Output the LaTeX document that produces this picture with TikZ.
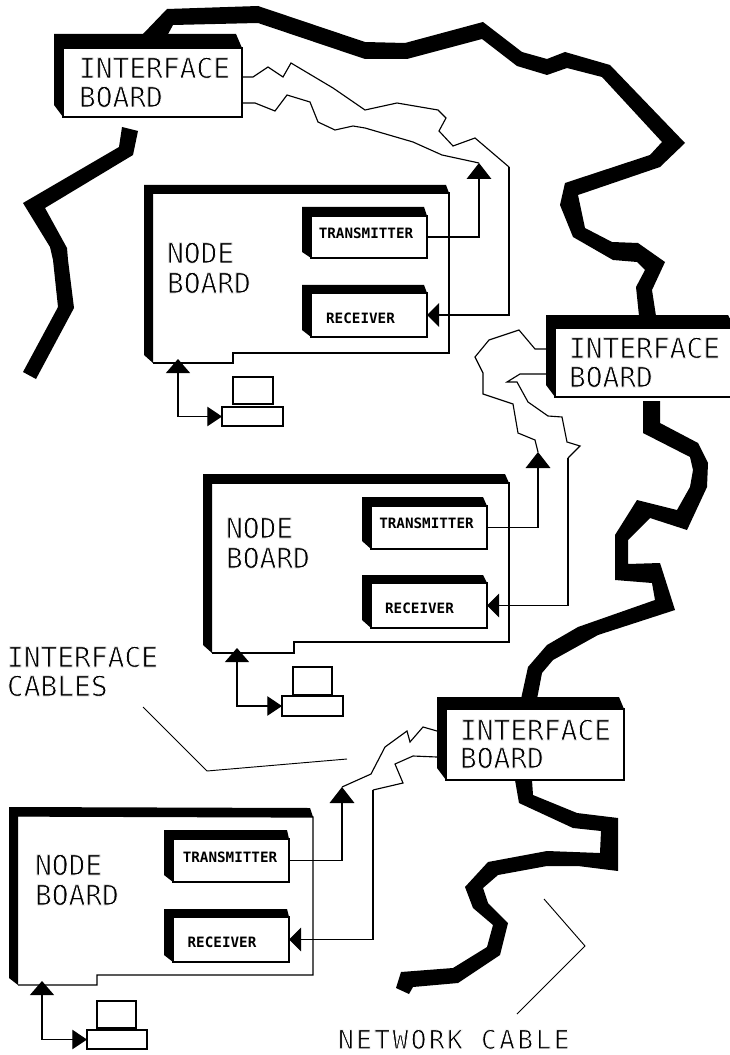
\documentclass[tikz,border=0pt]{standalone}
\usepackage{fontspec}
\setmonofont{DejaVu Sans Mono}
\usetikzlibrary{arrows.meta,fit}
\newcommand{\thinned}[1]{\special{pdf:code 2 Tr 1 1 1 RG 0.55 w}#1\special{pdf:code 0 Tr 0 0 0 RG 0.4 w}}
\tikzset{
  cable/.style={fill=black,draw=none},
  backing/.style={fill=black,draw=none},
  outline/.style={draw=black,line width=0.95pt,line join=miter},
  face/.style={draw=black,fill=white,line width=0.95pt,inner sep=0pt,outer sep=0pt},
  wire/.style={draw=black,line width=0.85pt,line join=miter},
  leader/.style={draw=black,line width=0.7pt},
  bigtext/.style={font=\ttfamily\fontsize{20.9}{22}\selectfont,anchor=base west,inner sep=0pt,outer sep=0pt},
  widetext/.style={font=\ttfamily\fontsize{19.5}{21}\selectfont\addfontfeature{LetterSpace=9.8},anchor=base west,inner sep=0pt,outer sep=0pt},
  smalltext/.style={font=\ttfamily\bfseries\fontsize{10.7}{12}\selectfont,inner sep=0pt,outer sep=0pt},
  upper/.style={-{Triangle[length=12pt,width=18.5pt]}},
  lefter/.style={-{Triangle[length=9pt,width=17.5pt]}},
  pcarrow/.style={{Triangle[length=10.5pt,width=18pt]}-{Triangle[length=11pt,width=14.5pt]}},
}
\newcommand{\threedbox}[9]{%
  \fill[backing] (#2,#3) -- (#9,#3) -- (#6,#5) -- (#4,#7) -- (#2,#8) -- cycle;
  \node[face,fit={(#4,#5)(#6,#7)}] (#1) {};
}
\newcommand{\computer}[9]{%
  \node[face,fit={(#2,#3)(#4,#5)}] (#1mon) {};
  \node[face,fit={(#6,#7)(#8,#9)}] (#1base) {};
}
\begin{document}
\begin{tikzpicture}[x=0.75pt,y=-0.75pt]
\useasboundingbox (0,0) rectangle (730,1055);
\clip (0,0) rectangle (730,1055);
\fill[white] (0,0) rectangle (730,1055);

% ---- network cable ----
\fill[cable] (143,34) -- (167,9) -- (258,6) -- (365,42) -- (405,43) -- (483,22) -- (522,52) -- (547,59) -- (565,52) -- (610,65) -- (685,143) -- (660,167) -- (578,195) -- (585,228) -- (612,242) -- (638,243) -- (665,262) -- (652,290) -- (656,316) -- (639,316) -- (636,287) -- (645,270) -- (637,262) -- (613,260) -- (573,237) -- (560,205) -- (565,183) -- (650,155) -- (662,142) -- (602,77) -- (567,68) -- (547,75) -- (517,66) -- (482,39) -- (407,59) -- (365,59) -- (258,23) -- (173,25) -- (167,36) -- cycle;
\fill[cable] (122,127) -- (138,131) -- (133,155) -- (45,208) -- (67,248) -- (68,260) -- (74,308) -- (36,379) -- (23,372) -- (58,307) -- (53,260) -- (50,247) -- (23,203) -- (119,147) -- cycle;
\fill[cable] (643,401) -- (660,401) -- (660,423) -- (698,443) -- (708,463) -- (707,487) -- (687,530) -- (650,518) -- (628,540) -- (628,564) -- (660,563) -- (675,610) -- (598,635) -- (553,660) -- (542,673) -- (537,699) -- (521,699) -- (528,667) -- (547,645) -- (578,627) -- (655,600) -- (652,583) -- (615,580) -- (615,535) -- (637,500) -- (677,510) -- (690,487) -- (693,470) -- (690,457) -- (643,433) -- cycle;
\fill[cable] (515,780) -- (532,780) -- (533,795) -- (577,813) -- (618,818) -- (618,871) -- (578,866) -- (547,866) -- (498,875) -- (483,888) -- (488,903) -- (508,923) -- (500,955) -- (458,983) -- (413,987) -- (409,994) -- (396,988) -- (401,972) -- (453,968) -- (487,947) -- (493,925) -- (473,908) -- (465,887) -- (488,862) -- (547,851) -- (600,853) -- (601,831) -- (573,828) -- (519,803) -- cycle;

% ---- interface boards ----
\threedbox{ifa}{54}{34}{63}{48}{242}{117}{105}{236}
\threedbox{ifb}{546}{315}{555}{328}{735}{397}{385}{728}
\threedbox{ifc}{437}{697}{446}{709}{624}{780}{768}{619}
\node[bigtext] (ifat) at (79,78) {\thinned{INTERFACE}};
\node[bigtext] (ifab) at (79,107) {\thinned{BOARD}};
\node[bigtext] (ifbt) at (569,358) {\thinned{INTERFACE}};
\node[bigtext] (ifbb) at (569,387) {\thinned{BOARD}};
\node[bigtext] (ifct) at (460,740) {\thinned{INTERFACE}};
\node[bigtext] (ifcb) at (460,768) {\thinned{BOARD}};

% ---- node boards ----
\fill[backing] (144,185) -- (446,185) -- (449,193) -- (153,193) -- (153,363) -- (144,355) -- cycle;
\draw[outline] (153,193) -- (449,193) -- (449,353) -- (233,353) -- (233,363) -- (153,363);
\fill[backing] (203,474) -- (505,474) -- (509,483) -- (212,483) -- (212,653) -- (203,645) -- cycle;
\draw[outline] (212,483) -- (509,483) -- (509,642) -- (294,642) -- (294,653) -- (212,653);
\fill[backing] (9,807) -- (310,808) -- (313,817) -- (18,816) -- (18,985) -- (9,978) -- cycle;
\draw[outline] (18,816) -- (313,817) -- (313,975) -- (97,975) -- (97,985) -- (18,985);

\node[bigtext] (nbat) at (167,263) {\thinned{NODE}};
\node[bigtext] (nbab) at (167,293) {\thinned{BOARD}};
\node[bigtext] (nbbt) at (226,538) {\thinned{NODE}};
\node[bigtext] (nbbb) at (226,568) {\thinned{BOARD}};
\node[bigtext] (nbct) at (35,875) {\thinned{NODE}};
\node[bigtext] (nbcb) at (35,905) {\thinned{BOARD}};

% ---- transmitters / receivers ----
\threedbox{txa}{302}{207}{311}{216}{427}{258}{252}{424}
\threedbox{rxa}{302}{285}{311}{293}{427}{337}{330}{424}
\threedbox{txb}{362}{497}{371}{506}{487}{549}{541}{483}
\threedbox{rxb}{362}{575}{371}{583}{487}{628}{620}{483}
\threedbox{txc}{164}{830}{173}{839}{289}{882}{875}{287}
\threedbox{rxc}{164}{909}{173}{917}{289}{962}{955}{287}
\node[smalltext] (txal) at (366,233) {TRANSMITTER};
\node[smalltext] (rxal) at (360.5,318) {RECEIVER};
\node[smalltext] (txbl) at (426.5,523.5) {TRANSMITTER};
\node[smalltext] (rxbl) at (419.5,608) {RECEIVER};
\node[smalltext] (txcl) at (230,857) {TRANSMITTER};
\node[smalltext] (rxcl) at (222,942) {RECEIVER};

% ---- computers ----
\computer{pca}{233}{377}{273}{404}{222}{407}{283}{426}
\computer{pcb}{293}{667}{332}{695}{282}{696}{343}{716}
\computer{pcc}{97}{1001}{136}{1028}{87}{1030}{147}{1049}

% ---- connection points ----
\coordinate (txatip) at (479,163);
\coordinate (txbtip) at (538,452);
\coordinate (txctip) at (342,787);
\coordinate (rxacor) at (509,167);
\coordinate (rxbcor) at (568,458);
\coordinate (rxccor) at (373,790);
\coordinate (nbaport) at (178,359);
\coordinate (nbbport) at (237,648);
\coordinate (nbcport) at (42,981);
\coordinate (ifaup) at (242,77);
\coordinate (ifalo) at (242,103);
\coordinate (ifbup) at (546,349);
\coordinate (ifblo) at (546,374);
\coordinate (ifcup) at (437,731);
\coordinate (ifclo) at (437,757);

% ---- arrows from transmitters and into receivers ----
\draw[wire,upper] (txa.east) -| (txatip);
\draw[wire,upper] (txb.east) -| (txbtip);
\draw[wire,upper] (txc.east) -| (txctip);
\draw[wire,lefter] (rxacor) |- (rxa.east);
\draw[wire,lefter] (rxbcor) |- (rxb.east);
\draw[wire,lefter] (rxccor) |- (rxc.east);

% ---- interface cables ----
\draw[wire] (ifaup) -- (253,77) -- (268,67) -- (283,77) -- (291,63) -- (333,88) -- (365,110) -- (397,103) -- (438,110) -- (446,118) -- (439,131) -- (453,146) -- (475,138) -- (rxacor);
\draw[wire] (ifalo) -- (255,103) -- (275,111) -- (287,95) -- (310,102) -- (318,122) -- (335,130) -- (353,126) -- (365,128) -- (413,142) -- (442,155) -- (txatip);
\draw[wire] (ifbup) -- (535,349) -- (519,330) -- (489,340) -- (475,357) -- (483,373) -- (483,394) -- (513,404) -- (518,433) -- (535,440) -- (txbtip);
\draw[wire] (ifblo) -- (520,374) -- (507,382) -- (517,382) -- (528,402) -- (548,416) -- (562,417) -- (567,442) -- (580,446) -- (rxbcor);
\draw[wire] (ifcup) -- (423,727) -- (410,742) -- (407,731) -- (385,747) -- (371,774) -- (txctip);
\draw[wire] (ifclo) -- (413,756) -- (395,764) -- (403,783) -- (rxccor);

% ---- computer links ----
\draw[wire,pcarrow] (nbaport) |- (pcabase.west);
\draw[wire,pcarrow] (nbbport) |- (pcbbase.west);
\draw[wire,pcarrow] (nbcport) |- (pccbase.west);

% ---- callouts ----
\node[bigtext] (lica) at (7,667) {\thinned{INTERFACE}};
\node[bigtext] (licb) at (7,696) {\thinned{CABLES}};
\node[widetext] (lnet) at (338,1048.8) {\thinned{NETWORK CABLE}};
\coordinate (lia) at (143,707);
\coordinate (lib) at (207,771);
\coordinate (lic) at (347,759);
\draw[leader] (lia) -- (lib) -- (lic);
\coordinate (lna) at (544,899);
\coordinate (lnb) at (585,946);
\coordinate (lnc) at (517,1014);
\draw[leader] (lna) -- (lnb) -- (lnc);
\end{tikzpicture}
\end{document}
